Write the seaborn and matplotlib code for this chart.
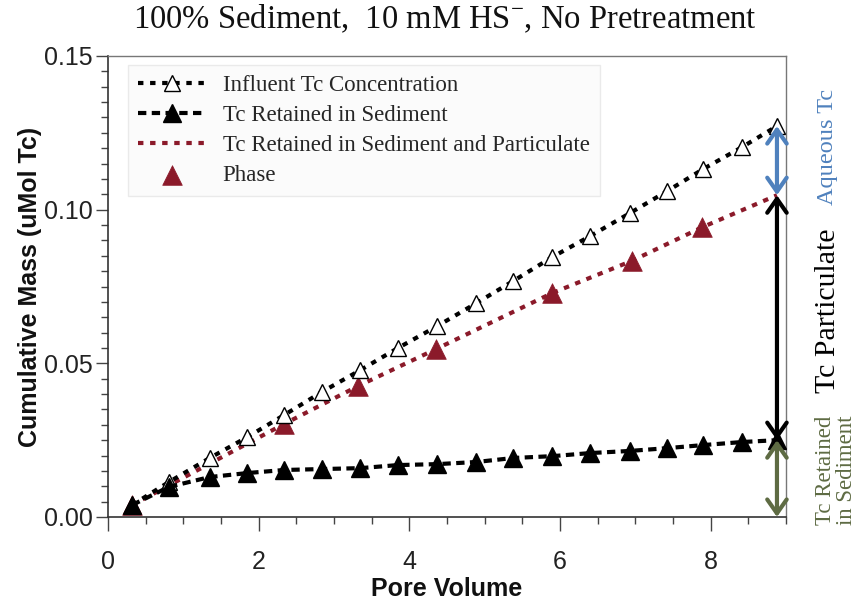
import numpy as np
import pandas as pd
import matplotlib
matplotlib.use("Agg")
import matplotlib.pyplot as plt
import seaborn as sns
from matplotlib.ticker import MultipleLocator, FormatStrFormatter

# ---------------- data ----------------
pore_volume = [0.32, 0.81, 1.35, 1.85, 2.34, 2.84, 3.35, 3.85, 4.37, 4.89,
               5.38, 5.90, 6.40, 6.93, 7.42, 7.90, 8.42, 8.88]
influent = [0.0039, 0.0114, 0.0192, 0.0260, 0.0332, 0.0407, 0.0478, 0.0550,
            0.0621, 0.0696, 0.0768, 0.0846, 0.0914, 0.0989, 0.1060, 0.1132,
            0.1204, 0.1272]
sediment = [0.0039, 0.0098, 0.0130, 0.0143, 0.0153, 0.0156, 0.0159, 0.0169,
            0.0172, 0.0179, 0.0192, 0.0198, 0.0208, 0.0215, 0.0224, 0.0234,
            0.0244, 0.0250]
particulate_pv = [0.32, 2.34, 3.32, 4.36, 5.90, 6.95, 7.89, 8.88]
particulate = [0.0039, 0.0303, 0.0426, 0.0547, 0.0729, 0.0833, 0.0943, 0.1047]

title = "100% Sediment,  10 mM HS$^{-}$, No Pretreatment"
xlabel = "Pore Volume"
ylabel = "Cumulative Mass (uMol Tc)"
lab_influent = "Influent Tc Concentration"
lab_sediment = "Tc Retained in Sediment"
lab_part_line = "Tc Retained in Sediment and Particulate"
lab_part_mark = "Phase"

RED = "#8B1A2A"
BLUE = "#4F81BD"
GREEN = "#5E6B43"

# ---------------- style ----------------
sns.set_theme(style="ticks")
plt.rcParams["font.family"] = ["Liberation Sans", "DejaVu Sans"]
plt.rcParams["mathtext.fontset"] = "custom"
plt.rcParams["mathtext.rm"] = "Liberation Serif"
plt.rcParams["mathtext.it"] = "Liberation Serif:italic"
SERIF = ["Liberation Serif", "DejaVu Serif"]

fig = plt.figure(figsize=(8.65, 6.07), dpi=100)
ax = fig.add_axes([108 / 865, 1 - 517 / 607, (786 - 108) / 865, (517 - 56) / 607])

# red line (particulate) + markers
sns.lineplot(x=particulate_pv, y=particulate, ax=ax, color=RED, lw=3,
             linestyle=(0, (1.3, 1.6)), sort=False, label=lab_part_line)
sns.scatterplot(x=particulate_pv[:-1], y=particulate[:-1], ax=ax, marker="^",
                s=200, color=RED, edgecolor=RED, linewidth=0.5, zorder=4,
                label=lab_part_mark)
# influent
sns.lineplot(x=pore_volume, y=influent, ax=ax, color="black", lw=3,
             linestyle=(0, (1.3, 1.6)), marker="^", markersize=12,
             markerfacecolor="white", markeredgecolor="black",
             markeredgewidth=1, sort=False, label=lab_influent, zorder=5)
# sediment
sns.lineplot(x=pore_volume, y=sediment, ax=ax, color="black", lw=3,
             linestyle=(0, (2.0, 1.3)), marker="^", markersize=13,
             markerfacecolor="black", markeredgecolor="black",
             markeredgewidth=1, sort=False, label=lab_sediment, zorder=6)

# ---------------- axes ----------------
ax.set_xlim(0, 9.0)
ax.set_ylim(0, 0.15)
ax.xaxis.set_major_locator(MultipleLocator(2))
ax.xaxis.set_minor_locator(MultipleLocator(0.5))
ax.yaxis.set_major_locator(MultipleLocator(0.05))
ax.yaxis.set_minor_locator(MultipleLocator(0.005))
ax.yaxis.set_major_formatter(FormatStrFormatter("%.2f"))
ax.tick_params(axis="both", which="major", labelsize=18, color="#444444",
               labelcolor="#222222", width=1, direction="out")
ax.tick_params(axis="x", which="major", length=10, pad=14)
ax.tick_params(axis="y", which="major", length=9, pad=2)
ax.tick_params(axis="both", which="minor", length=5, width=1, color="#444444")
for side in ["left", "bottom"]:
    ax.spines[side].set_color("#333333")
    ax.spines[side].set_linewidth(1.2)
for side in ["top", "right"]:
    ax.spines[side].set_visible(True)
    ax.spines[side].set_color("#777777")
    ax.spines[side].set_linewidth(1.0)

ax.set_xlabel(xlabel, fontsize=18, fontweight="bold", color="#111111")
ax.xaxis.label.set_verticalalignment("center")
ax.xaxis.set_label_coords(0.5, (517 - 589) / 461)
ax.set_ylabel(ylabel, fontsize=18, fontweight="bold", color="#111111")
ax.yaxis.label.set_verticalalignment("center")
ax.yaxis.set_label_coords((30 - 108) / 678, 0.5)

fig.text(445 / 865, 1 - 19 / 607, title, ha="center", va="center",
         fontsize=23.5, family=SERIF, color="#111111")

# ---------------- legend ----------------
handles, labels = ax.get_legend_handles_labels()
order = [lab_influent, lab_sediment, lab_part_line, lab_part_mark]
hmap = dict(zip(labels, handles))
leg = ax.legend([hmap[k] for k in order], order, loc="upper left",
                bbox_to_anchor=((128 - 108) / 678, 1 - 9 / 461),
                borderaxespad=0, frameon=True, fancybox=False,
                prop={"family": SERIF, "size": 16.5}, handlelength=2.9,
                handletextpad=0.78, labelspacing=0.38, borderpad=0.45)
leg.get_frame().set_edgecolor("#E6E6E6")
leg.get_frame().set_facecolor("#FBFBFB")
leg.get_frame().set_linewidth(1.0)

# ---------------- right-side bracket arrows ----------------
x_end = pore_volume[-1]
top_val = influent[-1]
mid_val = particulate[-1]
low_val = sediment[-1]
arrow_kw = dict(arrowstyle="<->,head_length=0.5,head_width=0.35",
                lw=3, shrinkA=0, shrinkB=0, mutation_scale=20)
ax.annotate("", xy=(x_end, top_val), xytext=(x_end, mid_val),
            arrowprops=dict(color=BLUE, **arrow_kw), zorder=8)
ax.annotate("", xy=(x_end, mid_val), xytext=(x_end, low_val),
            arrowprops=dict(color="black", **arrow_kw), zorder=8)
ax.annotate("", xy=(x_end, low_val), xytext=(x_end, 0.0),
            arrowprops=dict(color=GREEN, **arrow_kw), zorder=8)

fig.text(828 / 865, 1 - 147 / 607, "Aqueous Tc", rotation=90, ha="center",
         va="center", fontsize=17.5, family=SERIF, color=BLUE)
fig.text(828 / 865, 1 - 311 / 607, "Tc Particulate", rotation=90,
         ha="center", va="center", fontsize=21.5, family=SERIF, color="black")
fig.text(836 / 865, 1 - 470 / 607, "Tc Retained\nin Sediment", rotation=90,
         ha="center", va="center", fontsize=16.5, family=SERIF, color=GREEN,
         linespacing=1.05, multialignment="center")

fig.savefig("out.png", dpi=100)
